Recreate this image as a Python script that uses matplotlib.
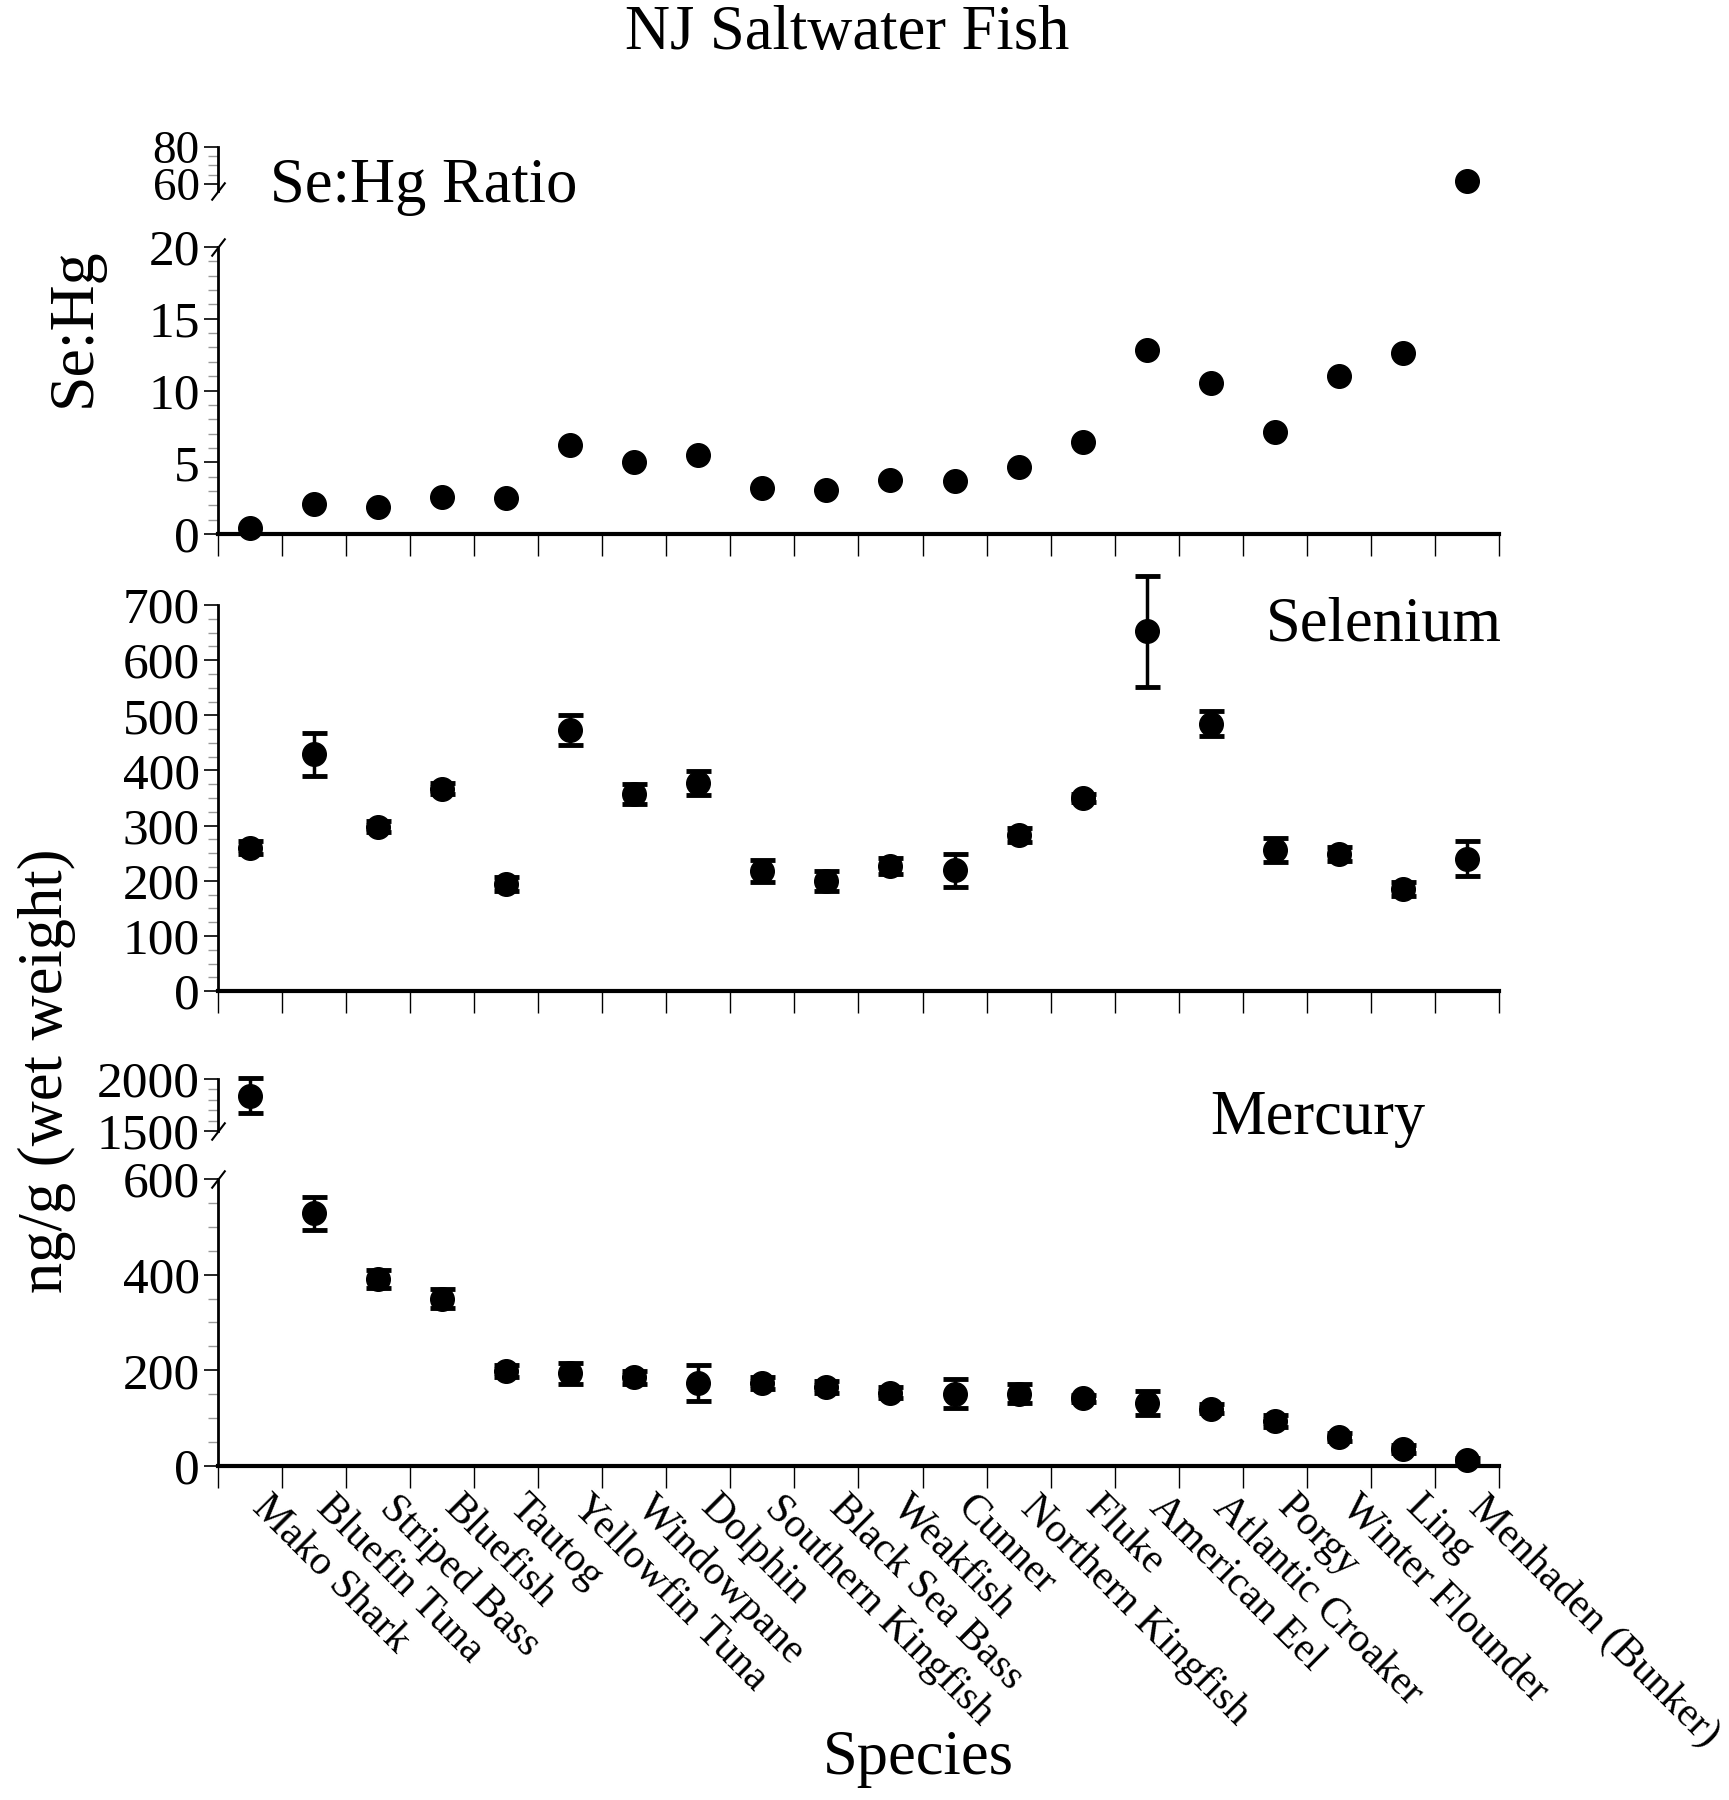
import numpy as np
import matplotlib
matplotlib.use('Agg')
import matplotlib.pyplot as plt
from matplotlib.ticker import MultipleLocator, FixedLocator
from matplotlib.transforms import ScaledTranslation

plt.rcParams['font.family'] = ['Liberation Serif', 'DejaVu Serif']

species = ['Mako Shark', 'Bluefin Tuna', 'Striped Bass', 'Bluefish', 'Tautog',
           'Yellowfin Tuna', 'Windowpane', 'Dolphin', 'Southern Kingfish',
           'Black Sea Bass', 'Weakfish', 'Cunner', 'Northern Kingfish', 'Fluke',
           'American Eel', 'Atlantic Croaker', 'Porgy', 'Winter Flounder', 'Ling',
           'Menhaden (Bunker)']

# Se:Hg molar ratio
sehg = np.array([0.4, 2.1, 1.9, 2.6, 2.5, 6.2, 5.0, 5.5, 3.2, 3.1,
                 3.8, 3.7, 4.7, 6.4, 12.8, 10.5, 7.1, 11.0, 12.6, 61.5])

# selenium, ng/g wet weight
se_mean = np.array([260, 429, 298, 367, 194, 473, 358, 377, 217, 200,
                    227, 219, 283, 350, 652, 485, 256, 248, 185, 240])
se_err = np.array([12, 39, 10, 10, 12, 27, 18, 22, 20, 18,
                   15, 30, 12, 8, 101, 22, 22, 13, 13, 32])

# mercury, ng/g wet weight
hg_mean = np.array([1840, 528, 391, 350, 199, 194, 185, 173, 173, 165,
                    153, 151, 151, 141, 132, 120, 94, 60, 36, 12])
hg_err = np.array([170, 35, 18, 20, 13, 22, 13, 38, 13, 13,
                   12, 30, 20, 8, 25, 10, 13, 8, 8, 5])

x = np.arange(len(species)) + 0.5

fig = plt.figure(figsize=(17.29, 18), dpi=100)
L, W = 0.126, 0.741
ax_r_hi = fig.add_axes([L, 0.8939, W, 0.0244])
ax_r = fig.add_axes([L, 0.7033, W, 0.1595])
ax_se = fig.add_axes([L, 0.4494, W, 0.2145])
ax_hg_hi = fig.add_axes([L, 0.3717, W, 0.0289])
ax_hg = fig.add_axes([L, 0.1856, W, 0.1594])

TICK_FS = 37
mk = dict(color='k', ms=17)
eb = dict(fmt='o', color='k', ms=17, elinewidth=2.5, capsize=9, capthick=3.5)


def style(ax, lo, hi, major, minor, bottom=True, fs=TICK_FS):
    ax.set_xlim(0, len(species))
    ax.set_ylim(lo, hi)
    for s in ['top', 'right']:
        ax.spines[s].set_visible(False)
    ax.spines['left'].set_linewidth(2)
    ax.spines['bottom'].set_linewidth(3)
    ax.spines['bottom'].set_visible(bottom)
    if isinstance(major, list):
        ax.yaxis.set_major_locator(FixedLocator(major))
    else:
        ax.yaxis.set_major_locator(MultipleLocator(major))
    ax.yaxis.set_minor_locator(MultipleLocator(minor))
    ax.tick_params(axis='y', which='major', length=10, width=1.2, labelsize=fs, pad=3)
    ax.tick_params(axis='y', which='minor', length=7, width=1, color='0.6')
    if bottom:
        ax.set_xticks(np.arange(len(species) + 1))
        ax.tick_params(axis='x', which='major', length=16, width=1, labelbottom=False)
    else:
        ax.set_xticks([])


def brk(ax, y):
    ax.plot([0], [y], transform=ax.transAxes, marker=[(-1, -1.3), (1, 1.3)],
            markersize=13, color='k', mew=1.5, linestyle='none', clip_on=False)


def unclip(c):
    for a in list(c.lines[1]) + list(c.lines[2]):
        a.set_clip_on(False)
    c.lines[0].set_clip_on(False)


# Se:Hg ratio
hi = sehg > 20
ax_r_hi.plot(x[hi], sehg[hi], 'o', clip_on=False, **mk)
ax_r.plot(x[~hi], sehg[~hi], 'o', clip_on=False, **mk)
style(ax_r_hi, 56, 80, [60, 80], 5, bottom=False, fs=34)
style(ax_r, 0, 20, 5, 1)
brk(ax_r_hi, 0)
brk(ax_r, 1)

# Selenium
c = ax_se.errorbar(x, se_mean, yerr=se_err, **eb)
unclip(c)
style(ax_se, 0, 700, 100, 25)

# Mercury
hi = hg_mean > 600
c = ax_hg_hi.errorbar(x[hi], hg_mean[hi], yerr=hg_err[hi], **eb)
unclip(c)
c = ax_hg.errorbar(x[~hi], hg_mean[~hi], yerr=hg_err[~hi], **eb)
unclip(c)
style(ax_hg_hi, 1500, 2000, [1500, 2000], 100, bottom=False)
style(ax_hg, 0, 600, 200, 50)
brk(ax_hg_hi, 0)
brk(ax_hg, 1)

ax_hg.set_xticks(x, species, minor=True)
ax_hg.tick_params(axis='x', which='minor', length=0, pad=16, labelsize=30)
shift = ScaledTranslation(0.22, 0, fig.dpi_scale_trans)
for lab in ax_hg.get_xticklabels(minor=True):
    lab.set_rotation(-45)
    lab.set_ha('left')
    lab.set_va('top')
    lab.set_rotation_mode('anchor')
    lab.set_transform(lab.get_transform() + shift)

# texts
fig.text(0.49, 0.973, 'NJ Saltwater Fish', ha='center', va='baseline', fontsize=45)
fig.text(0.156, 0.888, 'Se:Hg Ratio', ha='left', va='baseline', fontsize=45)
fig.text(0.732, 0.644, 'Selenium', ha='left', va='baseline', fontsize=45)
fig.text(0.700, 0.370, 'Mercury', ha='left', va='baseline', fontsize=45)
fig.text(0.531, 0.0144, 'Species', ha='center', va='baseline', fontsize=45)
fig.text(0.043, 0.818, 'Se:Hg', ha='center', va='center', rotation=90, fontsize=46)
fig.text(0.027, 0.405, 'ng/g (wet weight)', ha='center', va='center', rotation=90, fontsize=45)

fig.savefig('out.png', dpi=100, facecolor='white')
